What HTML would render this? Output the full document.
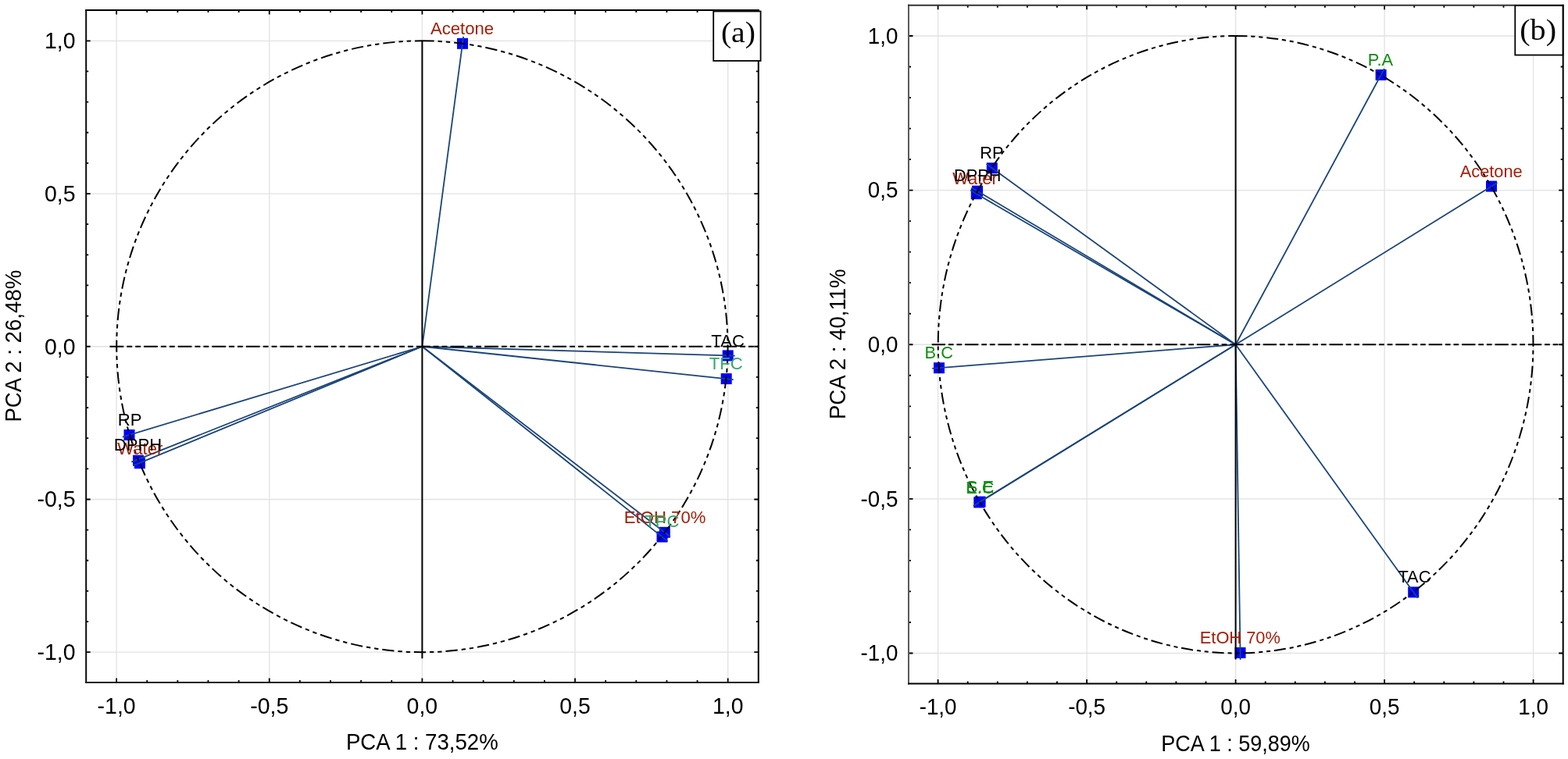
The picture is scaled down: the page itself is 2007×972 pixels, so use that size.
<!DOCTYPE html><html><head><meta charset="utf-8"><title>PCA correlation circles</title><style>html,body{margin:0;padding:0;background:#fff;width:2007px;height:972px;overflow:hidden}svg{display:block}text{font-family:"Liberation Sans", Arial, sans-serif}</style></head><body>
<svg width="2007" height="972" viewBox="0 0 2007 972">
<rect width="2007" height="972" fill="#fff"/>
<g id="pa">
<line x1="149.1" y1="13" x2="149.1" y2="873.9" stroke="#e2e2e2" stroke-width="1.3"/>
<line x1="110.2" y1="835.2" x2="970.8" y2="835.2" stroke="#e2e2e2" stroke-width="1.3"/>
<line x1="344.75" y1="13" x2="344.75" y2="873.9" stroke="#e2e2e2" stroke-width="1.3"/>
<line x1="110.2" y1="639.48" x2="970.8" y2="639.48" stroke="#e2e2e2" stroke-width="1.3"/>
<line x1="540.4" y1="13" x2="540.4" y2="873.9" stroke="#e2e2e2" stroke-width="1.3"/>
<line x1="110.2" y1="443.75" x2="970.8" y2="443.75" stroke="#e2e2e2" stroke-width="1.3"/>
<line x1="736.05" y1="13" x2="736.05" y2="873.9" stroke="#e2e2e2" stroke-width="1.3"/>
<line x1="110.2" y1="248.03" x2="970.8" y2="248.03" stroke="#e2e2e2" stroke-width="1.3"/>
<line x1="931.7" y1="13" x2="931.7" y2="873.9" stroke="#e2e2e2" stroke-width="1.3"/>
<line x1="110.2" y1="52.3" x2="970.8" y2="52.3" stroke="#e2e2e2" stroke-width="1.3"/>
<path d="M149.1 13v5.5M149.1 873.9v-5.5M110.2 835.2h5.5M970.8 835.2h-5.5M188.23 13v3M188.23 873.9v-3M110.2 796.06h3M970.8 796.06h-3M227.36 13v3M227.36 873.9v-3M110.2 756.91h3M970.8 756.91h-3M266.49 13v3M266.49 873.9v-3M110.2 717.76h3M970.8 717.76h-3M305.62 13v3M305.62 873.9v-3M110.2 678.62h3M970.8 678.62h-3M344.75 13v5.5M344.75 873.9v-5.5M110.2 639.48h5.5M970.8 639.48h-5.5M383.88 13v3M383.88 873.9v-3M110.2 600.33h3M970.8 600.33h-3M423.01 13v3M423.01 873.9v-3M110.2 561.18h3M970.8 561.18h-3M462.14 13v3M462.14 873.9v-3M110.2 522.04h3M970.8 522.04h-3M501.27 13v3M501.27 873.9v-3M110.2 482.89h3M970.8 482.89h-3M540.4 13v5.5M540.4 873.9v-5.5M110.2 443.75h5.5M970.8 443.75h-5.5M579.53 13v3M579.53 873.9v-3M110.2 404.61h3M970.8 404.61h-3M618.66 13v3M618.66 873.9v-3M110.2 365.46h3M970.8 365.46h-3M657.79 13v3M657.79 873.9v-3M110.2 326.31h3M970.8 326.31h-3M696.92 13v3M696.92 873.9v-3M110.2 287.17h3M970.8 287.17h-3M736.05 13v5.5M736.05 873.9v-5.5M110.2 248.03h5.5M970.8 248.03h-5.5M775.18 13v3M775.18 873.9v-3M110.2 208.88h3M970.8 208.88h-3M814.31 13v3M814.31 873.9v-3M110.2 169.74h3M970.8 169.74h-3M853.44 13v3M853.44 873.9v-3M110.2 130.59h3M970.8 130.59h-3M892.57 13v3M892.57 873.9v-3M110.2 91.44h3M970.8 91.44h-3M931.7 13v5.5M931.7 873.9v-5.5M110.2 52.3h5.5M970.8 52.3h-5.5" stroke="#000" stroke-width="1.8" fill="none"/>
<rect x="585" y="48.8" width="14" height="14" fill="#0000ff"/>
<rect x="924.7" y="448.4" width="14" height="14" fill="#0000ff"/>
<rect x="922.7" y="478.1" width="14" height="14" fill="#0000ff"/>
<rect x="843.8" y="674.8" width="14" height="14" fill="#0000ff"/>
<rect x="840.5" y="680.5" width="14" height="14" fill="#0000ff"/>
<rect x="158.5" y="550" width="14" height="14" fill="#0000ff"/>
<rect x="171.9" y="586.2" width="14" height="14" fill="#0000ff"/>
<rect x="170" y="582.75" width="14" height="14" fill="#0000ff"/>
<line x1="540.4" y1="443.75" x2="593.19" y2="46.88" stroke="#1a4479" stroke-width="1.8"/>
<line x1="540.4" y1="443.75" x2="940.7" y2="455.67" stroke="#1a4479" stroke-width="1.8"/>
<line x1="540.4" y1="443.75" x2="938.65" y2="486.05" stroke="#1a4479" stroke-width="1.8"/>
<line x1="540.4" y1="443.75" x2="857.94" y2="687.28" stroke="#1a4479" stroke-width="1.8"/>
<line x1="540.4" y1="443.75" x2="854.56" y2="693.11" stroke="#1a4479" stroke-width="1.8"/>
<line x1="540.4" y1="443.75" x2="156.88" y2="559.6" stroke="#1a4479" stroke-width="1.8"/>
<line x1="540.4" y1="443.75" x2="170.2" y2="596.3" stroke="#1a4479" stroke-width="1.8"/>
<line x1="540.4" y1="443.75" x2="168.3" y2="591.7" stroke="#1a4479" stroke-width="1.8"/>
<line x1="540.4" y1="52.3" x2="540.4" y2="843.2" stroke="#000" stroke-width="2"/>
<line x1="139.5" y1="443.75" x2="970.8" y2="443.75" stroke="#000" stroke-width="2" stroke-dasharray="17.8 4 6.9 4 6.9 4" stroke-dashoffset="-1"/>
<path d="M540.4 52.3A391.3 391.45 0 0 1 540.4 835.2A391.3 391.45 0 0 1 540.4 52.3" fill="none" stroke="#000" stroke-width="2" stroke-dasharray="15.4 4.9 5.3 4.9 5.3 5"/>
<text transform="translate(591.5 43.9) scale(0.975 1)" text-anchor="middle" font-size="22.7" fill="#a3200a">Acetone</text>
<text transform="translate(931.6 444.3) scale(0.975 1)" text-anchor="middle" font-size="22.7" fill="#000">TAC</text>
<text transform="translate(929.3 473) scale(0.975 1)" text-anchor="middle" font-size="22.7" fill="#33a866">TFC</text>
<text transform="translate(851.1 670.2) scale(0.975 1)" text-anchor="middle" font-size="22.7" fill="#a3200a">EtOH 70%</text>
<text transform="translate(847.4 674.9) scale(0.975 1)" text-anchor="middle" font-size="22.7" fill="#33a866">TPC</text>
<text transform="translate(166.1 545.2) scale(0.975 1)" text-anchor="middle" font-size="22.7" fill="#000">RP</text>
<text transform="translate(179.3 581.6) scale(0.975 1)" text-anchor="middle" font-size="22.7" fill="#a3200a">Water</text>
<text transform="translate(176.5 577) scale(0.975 1)" text-anchor="middle" font-size="22.7" fill="#000">DPPH</text>
<path d="M110.2 12V874.9" stroke="#080808" stroke-width="2" fill="none"/>
<path d="M970.8 12V874.9" stroke="#000" stroke-width="2" fill="none"/>
<path d="M109.2 13H971.8" stroke="#000" stroke-width="2" fill="none"/>
<path d="M109.2 873.9H971.8" stroke="#1a1a1a" stroke-width="2" fill="none"/>
<text transform="translate(149.1 913.6) scale(0.962 1)" text-anchor="middle" font-size="29.6">-1,0</text>
<text transform="translate(96.5 845) scale(0.962 1)" text-anchor="end" font-size="29.6">-1,0</text>
<text transform="translate(344.75 913.6) scale(0.962 1)" text-anchor="middle" font-size="29.6">-0,5</text>
<text transform="translate(96.5 649.27) scale(0.962 1)" text-anchor="end" font-size="29.6">-0,5</text>
<text transform="translate(540.4 913.6) scale(0.962 1)" text-anchor="middle" font-size="29.6">0,0</text>
<text transform="translate(96.5 453.55) scale(0.962 1)" text-anchor="end" font-size="29.6">0,0</text>
<text transform="translate(736.05 913.6) scale(0.962 1)" text-anchor="middle" font-size="29.6">0,5</text>
<text transform="translate(96.5 257.82) scale(0.962 1)" text-anchor="end" font-size="29.6">0,5</text>
<text transform="translate(931.7 913.6) scale(0.962 1)" text-anchor="middle" font-size="29.6">1,0</text>
<text transform="translate(96.5 62.1) scale(0.962 1)" text-anchor="end" font-size="29.6">1,0</text>
<text transform="translate(540.3 959.5) scale(0.962 1)" text-anchor="middle" font-size="28.7">PCA 1 : 73,52%</text>
<text transform="translate(27.2 443.2) rotate(-90) scale(0.962 1)" text-anchor="middle" font-size="28.7">PCA 2 : 26,48%</text>
<rect x="913.2" y="14.5" width="60.4" height="63.4" fill="#fff" stroke="#000" stroke-width="1.8"/>
<text transform="translate(944.9 54.1) scale(1.05 1)" text-anchor="middle" style='font-family:"Liberation Serif", "Times New Roman", serif' font-size="37.8">(a)</text>
</g><g id="pb">
<line x1="1200.6" y1="6.8" x2="1200.6" y2="875.6" stroke="#e2e2e2" stroke-width="1.3"/>
<line x1="1163" y1="836.5" x2="2000.7" y2="836.5" stroke="#e2e2e2" stroke-width="1.3"/>
<line x1="1391.1" y1="6.8" x2="1391.1" y2="875.6" stroke="#e2e2e2" stroke-width="1.3"/>
<line x1="1163" y1="638.88" x2="2000.7" y2="638.88" stroke="#e2e2e2" stroke-width="1.3"/>
<line x1="1581.6" y1="6.8" x2="1581.6" y2="875.6" stroke="#e2e2e2" stroke-width="1.3"/>
<line x1="1163" y1="441.25" x2="2000.7" y2="441.25" stroke="#e2e2e2" stroke-width="1.3"/>
<line x1="1772.1" y1="6.8" x2="1772.1" y2="875.6" stroke="#e2e2e2" stroke-width="1.3"/>
<line x1="1163" y1="243.62" x2="2000.7" y2="243.62" stroke="#e2e2e2" stroke-width="1.3"/>
<line x1="1962.6" y1="6.8" x2="1962.6" y2="875.6" stroke="#e2e2e2" stroke-width="1.3"/>
<line x1="1163" y1="46" x2="2000.7" y2="46" stroke="#e2e2e2" stroke-width="1.3"/>
<path d="M1200.6 6.8v5.5M1200.6 875.6v-5.5M1163 836.5h5.5M2000.7 836.5h-5.5M1238.7 6.8v3M1238.7 875.6v-3M1163 796.98h3M2000.7 796.98h-3M1276.8 6.8v3M1276.8 875.6v-3M1163 757.45h3M2000.7 757.45h-3M1314.9 6.8v3M1314.9 875.6v-3M1163 717.92h3M2000.7 717.92h-3M1353 6.8v3M1353 875.6v-3M1163 678.4h3M2000.7 678.4h-3M1391.1 6.8v5.5M1391.1 875.6v-5.5M1163 638.88h5.5M2000.7 638.88h-5.5M1429.2 6.8v3M1429.2 875.6v-3M1163 599.35h3M2000.7 599.35h-3M1467.3 6.8v3M1467.3 875.6v-3M1163 559.83h3M2000.7 559.83h-3M1505.4 6.8v3M1505.4 875.6v-3M1163 520.3h3M2000.7 520.3h-3M1543.5 6.8v3M1543.5 875.6v-3M1163 480.77h3M2000.7 480.77h-3M1581.6 6.8v5.5M1581.6 875.6v-5.5M1163 441.25h5.5M2000.7 441.25h-5.5M1619.7 6.8v3M1619.7 875.6v-3M1163 401.73h3M2000.7 401.73h-3M1657.8 6.8v3M1657.8 875.6v-3M1163 362.2h3M2000.7 362.2h-3M1695.9 6.8v3M1695.9 875.6v-3M1163 322.68h3M2000.7 322.68h-3M1734 6.8v3M1734 875.6v-3M1163 283.15h3M2000.7 283.15h-3M1772.1 6.8v5.5M1772.1 875.6v-5.5M1163 243.62h5.5M2000.7 243.62h-5.5M1810.2 6.8v3M1810.2 875.6v-3M1163 204.1h3M2000.7 204.1h-3M1848.3 6.8v3M1848.3 875.6v-3M1163 164.58h3M2000.7 164.58h-3M1886.4 6.8v3M1886.4 875.6v-3M1163 125.05h3M2000.7 125.05h-3M1924.5 6.8v3M1924.5 875.6v-3M1163 85.52h3M2000.7 85.52h-3M1962.6 6.8v5.5M1962.6 875.6v-5.5M1163 46h5.5M2000.7 46h-5.5" stroke="#000" stroke-width="1.8" fill="none"/>
<rect x="1760.6" y="88.9" width="14" height="14" fill="#0000ff"/>
<rect x="1902" y="231.6" width="14" height="14" fill="#0000ff"/>
<rect x="1262.8" y="208.3" width="14" height="14" fill="#0000ff"/>
<rect x="1242.8" y="241.2" width="14" height="14" fill="#0000ff"/>
<rect x="1244.1" y="237.7" width="14" height="14" fill="#0000ff"/>
<rect x="1195" y="464.2" width="14" height="14" fill="#0000ff"/>
<rect x="1247.6" y="635.6" width="14" height="14" fill="#0000ff"/>
<rect x="1246.3" y="636.4" width="14" height="14" fill="#0000ff"/>
<rect x="1580.5" y="829" width="14" height="14" fill="#0000ff"/>
<rect x="1802.2" y="751.4" width="14" height="14" fill="#0000ff"/>
<line x1="1581.6" y1="441.25" x2="1771.88" y2="87.96" stroke="#1a4479" stroke-width="1.8"/>
<line x1="1581.6" y1="441.25" x2="1916.53" y2="233.94" stroke="#1a4479" stroke-width="1.8"/>
<line x1="1581.6" y1="441.25" x2="1262.63" y2="210.1" stroke="#1a4479" stroke-width="1.8"/>
<line x1="1581.6" y1="441.25" x2="1242.17" y2="243.76" stroke="#1a4479" stroke-width="1.8"/>
<line x1="1581.6" y1="441.25" x2="1243.5" y2="240.18" stroke="#1a4479" stroke-width="1.8"/>
<line x1="1581.6" y1="441.25" x2="1193.27" y2="471.89" stroke="#1a4479" stroke-width="1.8"/>
<line x1="1581.6" y1="441.25" x2="1247.08" y2="647.23" stroke="#1a4479" stroke-width="1.8"/>
<line x1="1581.6" y1="441.25" x2="1245.75" y2="648.05" stroke="#1a4479" stroke-width="1.8"/>
<line x1="1581.6" y1="441.25" x2="1587.64" y2="845.08" stroke="#1a4479" stroke-width="1.8"/>
<line x1="1581.6" y1="441.25" x2="1814.43" y2="765.69" stroke="#1a4479" stroke-width="1.8"/>
<line x1="1581.6" y1="45.6" x2="1581.6" y2="844.4" stroke="#000" stroke-width="2"/>
<line x1="1191.4" y1="441.25" x2="2000.7" y2="441.25" stroke="#000" stroke-width="2" stroke-dasharray="17.3 3.9 6.7 3.9 6.7 3.9" stroke-dashoffset="-1.3"/>
<path d="M1581.6 46A381 395.25 0 0 1 1581.6 836.5A381 395.25 0 0 1 1581.6 46" fill="none" stroke="#000" stroke-width="2" stroke-dasharray="15 4.8 5.1 4.8 5.1 5"/>
<text transform="translate(1766.9 83.9) scale(0.96 1)" text-anchor="middle" font-size="22.7" fill="#0f8c0f">P.A</text>
<text transform="translate(1908.7 226.5) scale(0.96 1)" text-anchor="middle" font-size="22.7" fill="#a3200a">Acetone</text>
<text transform="translate(1269.3 203.4) scale(0.96 1)" text-anchor="middle" font-size="22.7" fill="#000">RP</text>
<text transform="translate(1248 236.4) scale(0.96 1)" text-anchor="middle" font-size="22.7" fill="#a3200a">Water</text>
<text transform="translate(1251.3 232) scale(0.96 1)" text-anchor="middle" font-size="22.7" fill="#000">DPPH</text>
<text transform="translate(1201.75 459.3) scale(0.96 1)" text-anchor="middle" font-size="22.7" fill="#0f8c0f">B.C</text>
<text transform="translate(1254.4 631.4) scale(0.96 1)" text-anchor="middle" font-size="22.7" fill="#0f8c0f">S.E</text>
<text transform="translate(1254.4 631.8) scale(0.96 1)" text-anchor="middle" font-size="22.7" fill="#0f8c0f">E.C</text>
<text transform="translate(1587.3 824.4) scale(0.96 1)" text-anchor="middle" font-size="22.7" fill="#a3200a">EtOH 70%</text>
<text transform="translate(1810.4 746.4) scale(0.96 1)" text-anchor="middle" font-size="22.7" fill="#000">TAC</text>
<path d="M1163 5.8V876.6" stroke="#5a5a5a" stroke-width="2" fill="none"/>
<path d="M2000.7 5.8V876.6" stroke="#000" stroke-width="2" fill="none"/>
<path d="M1162 6.8H2001.7" stroke="#333" stroke-width="2" fill="none"/>
<path d="M1162 875.6H2001.7" stroke="#000" stroke-width="2" fill="none"/>
<text transform="translate(1200.6 915) scale(0.94 1)" text-anchor="middle" font-size="29.6">-1,0</text>
<text transform="translate(1149.5 846.3) scale(0.94 1)" text-anchor="end" font-size="29.6">-1,0</text>
<text transform="translate(1391.1 915) scale(0.94 1)" text-anchor="middle" font-size="29.6">-0,5</text>
<text transform="translate(1149.5 648.67) scale(0.94 1)" text-anchor="end" font-size="29.6">-0,5</text>
<text transform="translate(1581.6 915) scale(0.94 1)" text-anchor="middle" font-size="29.6">0,0</text>
<text transform="translate(1149.5 451.05) scale(0.94 1)" text-anchor="end" font-size="29.6">0,0</text>
<text transform="translate(1772.1 915) scale(0.94 1)" text-anchor="middle" font-size="29.6">0,5</text>
<text transform="translate(1149.5 253.43) scale(0.94 1)" text-anchor="end" font-size="29.6">0,5</text>
<text transform="translate(1962.6 915) scale(0.94 1)" text-anchor="middle" font-size="29.6">1,0</text>
<text transform="translate(1149.5 55.8) scale(0.94 1)" text-anchor="end" font-size="29.6">1,0</text>
<text transform="translate(1581.5 961.9) scale(0.94 1)" text-anchor="middle" font-size="28.7">PCA 1 : 59,89%</text>
<text transform="translate(1082 440.75) rotate(-90) scale(0.962 1)" text-anchor="middle" font-size="28.7">PCA 2 : 40,11%</text>
<rect x="1939.3" y="7.1" width="61.2" height="63.4" fill="#fff" stroke="#000" stroke-width="1.8"/>
<text transform="translate(1968.6 50.7) scale(1.07 1)" text-anchor="middle" style='font-family:"Liberation Serif", "Times New Roman", serif' font-size="37.5">(b)</text>
</g></svg></body></html>
